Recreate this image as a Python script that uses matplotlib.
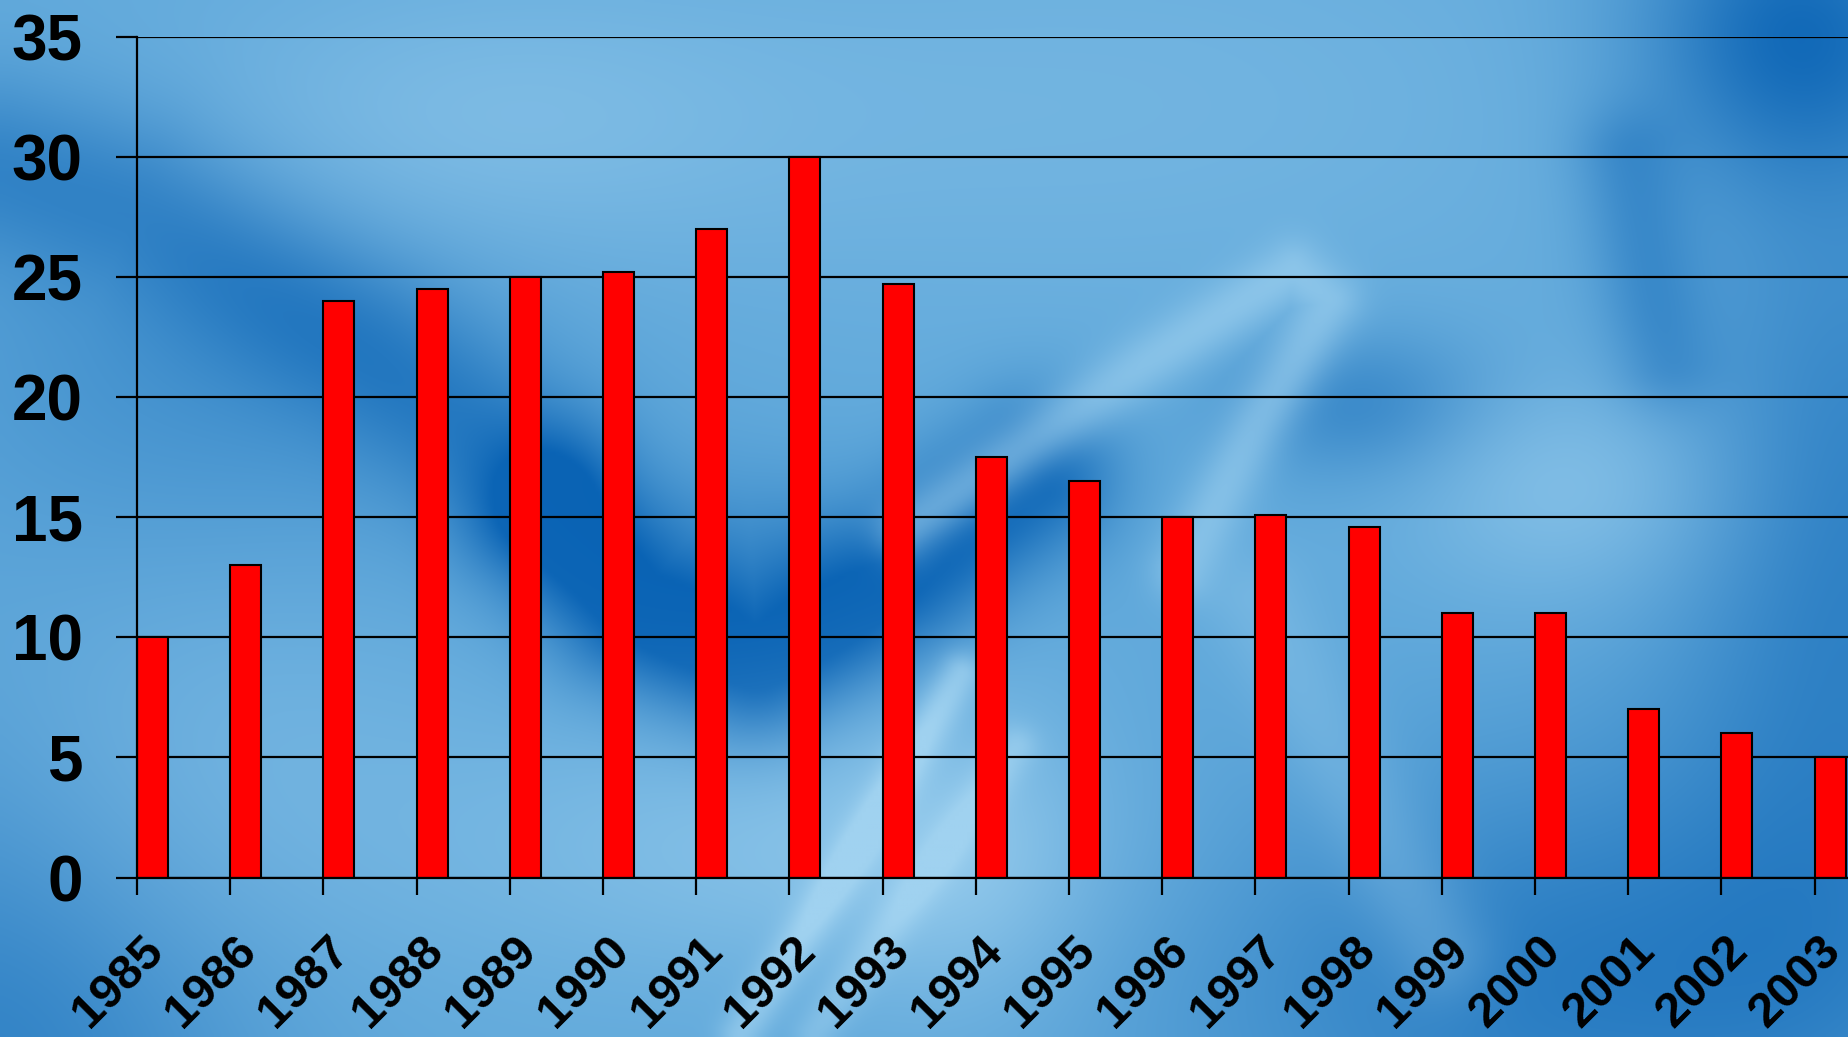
import numpy as np
import matplotlib.pyplot as plt
from matplotlib.transforms import ScaledTranslation

plt.rcParams['font.family'] = ['Liberation Sans', 'DejaVu Sans']
plt.rcParams['font.weight'] = 'bold'

years = [str(y) for y in range(1985, 2004)]
values = [10, 13, 24, 24.5, 25, 25.2, 27, 30, 24.7, 17.5, 16.5, 15, 15.1, 14.6, 11, 11, 7, 6, 5]
yticks = [0, 5, 10, 15, 20, 25, 30, 35]


def blob(u, v, cu, cv, su, sv):
    return np.exp(-(((u - cu) / su) ** 2 + ((v - cv) / sv) ** 2) / 2)


def band(u, v, pts, width):
    # gaussian band along a polyline given in (u, v)
    pts = np.array(pts, dtype=float)
    t = np.linspace(0, len(pts) - 1, 300)
    cu = np.interp(t, np.arange(len(pts)), pts[:, 0])
    cv = np.interp(t, np.arange(len(pts)), pts[:, 1])
    d2 = np.full(u.shape, np.inf)
    for a, b in zip(cu, cv):
        d2 = np.minimum(d2, (u - a) ** 2 + ((v - b) * 0.56) ** 2)
    return np.exp(-d2 / (2 * width ** 2))


# background (fabric-like blue swirl)
h, w = 260, 462
v, u = np.mgrid[0:1:h * 1j, 0:1:w * 1j]
base = np.array([108, 178, 224]) / 255
dark = np.array([8, 98, 180]) / 255
light = np.array([160, 210, 240]) / 255

d = 0.1 * np.ones_like(u)
d += 0.45 * band(u, v, [(0.0, 0.16), (0.075, 0.19), (0.196, 0.33), (0.28, 0.45)], 0.035)
d += 0.85 * band(u, v, [(0.30, 0.50), (0.34, 0.59), (0.41, 0.65), (0.49, 0.56),
                        (0.53, 0.50), (0.56, 0.46)], 0.03)
d += 0.3 * blob(u, v, 0.12, 0.35, 0.12, 0.15)
d += 0.35 * blob(u, v, 0.40, 0.55, 0.06, 0.07)
d += 0.75 * blob(u, v, 0.97, 0.03, 0.06, 0.1)
d += 0.5 * blob(u, v, 1.0, 0.55, 0.07, 0.3)
d += 0.55 * blob(u, v, 0.85, 0.95, 0.15, 0.15)
d += 0.35 * band(u, v, [(0.88, 0.15), (0.90, 0.35)], 0.02)
d += 0.45 * blob(u, v, 0.74, 0.39, 0.05, 0.05)
d += 0.5 * blob(u, v, 0.0, 1.0, 0.1, 0.2)
d = np.clip(d, 0, 1)

l = 0.4 * blob(u, v, 0.25, 0.12, 0.12, 0.1)
l += 0.25 * blob(u, v, 0.6, 0.1, 0.2, 0.15)
l += 0.5 * blob(u, v, 0.42, 0.82, 0.12, 0.09)
l += 0.3 * blob(u, v, 0.12, 0.75, 0.1, 0.15)
l += 0.5 * blob(u, v, 0.85, 0.47, 0.06, 0.08)
l += 0.55 * band(u, v, [(0.49, 0.51), (0.62, 0.35), (0.70, 0.26), (0.72, 0.29), (0.68, 0.41), (0.64, 0.55)], 0.012)
l += 0.6 * band(u, v, [(0.40, 1.0), (0.47, 0.8), (0.52, 0.65)], 0.008)
l += 0.4 * band(u, v, [(0.44, 1.0), (0.55, 0.72)], 0.008)
l += 0.4 * blob(u, v, 0.52, 0.82, 0.05, 0.12)
l += 0.3 * band(u, v, [(0.68, 0.58), (0.78, 0.92)], 0.02)
l = np.clip(l, 0, 1)

img = base * (1 - d[..., None]) + dark * d[..., None]
img = img * (1 - l[..., None]) + light * l[..., None]
img = np.clip(img, 0, 1)

fig = plt.figure(figsize=(18.49, 10.37), dpi=100)
bg = fig.add_axes([0, 0, 1, 1], zorder=0)
bg.imshow(img, aspect='auto', interpolation='bilinear')
bg.axis('off')

ax = fig.add_axes([0.0741, 0.1538, 1 - 0.0741, 0.811], zorder=1)
ax.set_facecolor('none')

x = np.arange(len(years))
ax.bar(x, values, width=0.333, align='edge', color='#ff0000', edgecolor='black', linewidth=1.5, zorder=2)

ax.set_xlim(0, 18.37)
ax.set_ylim(0, 35)
ax.set_yticks(yticks)
ax.set_yticklabels([str(t) for t in yticks], fontsize=46, fontweight='bold')
ax.yaxis.grid(True, color='black', linewidth=1.6)
ax.set_axisbelow(True)
ax.tick_params(axis='y', length=15, width=1.6, pad=24, direction='out')
ax.set_xticks(x)
ax.set_xticklabels([''] * len(x))
ax.tick_params(axis='x', length=12, width=1.6, direction='out')

for s in ['top', 'right']:
    ax.spines[s].set_visible(False)
for s in ['left', 'bottom']:
    ax.spines[s].set_linewidth(1.6)

off = ScaledTranslation(14 / 72, -48 / 72, fig.dpi_scale_trans)
for i, lab in enumerate(years):
    ax.text(i, 0, lab, transform=ax.transData + off, rotation=45, rotation_mode='anchor',
            ha='right', va='center', fontsize=35, fontweight='bold', clip_on=False)

fig.savefig('out.png', dpi=100)
